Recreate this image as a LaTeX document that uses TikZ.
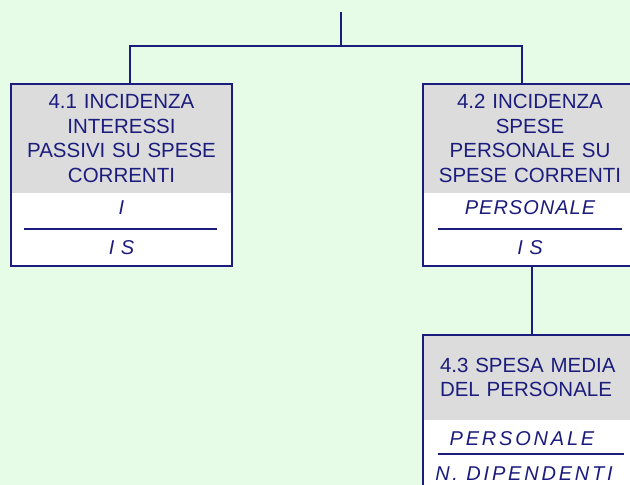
\documentclass[tikz,border=0pt]{standalone}
\usepackage{fontspec}
\setmainfont{Liberation Sans}
\newfontfamily\itnarrow[LetterSpace=5]{Liberation Sans Italic}
\newfontfamily\itwide[LetterSpace=14]{Liberation Sans Italic}
\usetikzlibrary{positioning}
\definecolor{navy}{HTML}{1C1C7E}
\definecolor{mint}{HTML}{E6FCE6}
\definecolor{hdrgrey}{HTML}{DCDCDC}

\begin{document}
\begin{tikzpicture}[x=1pt,y=1pt,
  head/.style={fill=hdrgrey,text=navy,inner sep=0pt,minimum width=#1,
    font=\fontsize{20.5}{24.5}\selectfont},
  body/.style={fill=white,inner sep=0pt,minimum width=#1},
  frac/.style={text=navy,inner sep=0pt,anchor=base,font=\fontsize{20}{23}\itnarrow},
  wide/.style={font=\fontsize{20}{23}\itwide},
  wire/.style={draw=navy,line width=2pt},
  frame/.style={draw=navy,line width=2pt}]

\useasboundingbox (0,0) rectangle (630,-485);
\clip (0,0) rectangle (630,-485);
\fill[mint] (0,0) rectangle (630,-485);

% boxes
\node[head=221pt,minimum height=109pt,align=center,text width=215pt] (h41) at (121.5,-138.5)
  {4.1 INCIDENZA\\INTERESSI\\PASSIVI SU SPESE\\CORRENTI};
\node[body=221pt,minimum height=72pt] (b41) [below=0pt of h41] {};

\node[head=214pt,minimum height=109pt,align=center,text width=205pt] (h42) at (530,-138.5)
  {4.2 INCIDENZA\\SPESE\\PERSONALE SU\\SPESE CORRENTI};
\node[body=214pt,minimum height=72pt] (b42) [below=0pt of h42] {};

\node[head=214pt,minimum height=85pt,align=left,text width=180pt] (h43) at (530,-377.5)
  {4.3 SPESA MEDIA\\DEL PERSONALE};
\node[body=214pt,minimum height=68pt] (b43) [below=0pt of h43] {};

\draw[frame] (h41.north west) rectangle (b41.south east);
\draw[frame] (h42.north west) rectangle (b42.south east);
\draw[frame] (h43.north west) rectangle (b43.south east);

% fractions
\node[frac] (n41) at ([yshift=15pt]b41.center) {I};
\node[frac] (d41) at ([yshift=-25pt]b41.center) {I S};
\draw[wire] ([xshift=13pt]b41.west) -- ([xshift=-15pt]b41.east);

\node[frac] (n42) at ([yshift=15pt]b42.center) {PERSONALE};
\node[frac] (d42) at ([yshift=-25pt]b42.center) {I S};
\draw[wire] ([xshift=15pt]b42.west) -- ([xshift=-15pt]b42.east);

\node[frac,wide] (n43) at ([xshift=-8pt,yshift=9pt]b43.center) {PERSONALE};
\node[frac,wide] (d43) at ([xshift=-6pt,yshift=-26pt]b43.center) {N. DIPENDENTI};
\draw[wire] ([xshift=15pt]b43.west) -- ([xshift=-13pt]b43.east);

% connectors
\coordinate (top) at (341,-12);
\coordinate (bus) at (341,-46);
\draw[wire] (top) -- (bus);
\draw[wire] ([xshift=8.5pt]h41.north) |- (bus) -| ([xshift=-8pt]h42.north);
\draw[wire] ([xshift=2pt]b42.south) -- ([xshift=2pt]h43.north);

\end{tikzpicture}
\end{document}
